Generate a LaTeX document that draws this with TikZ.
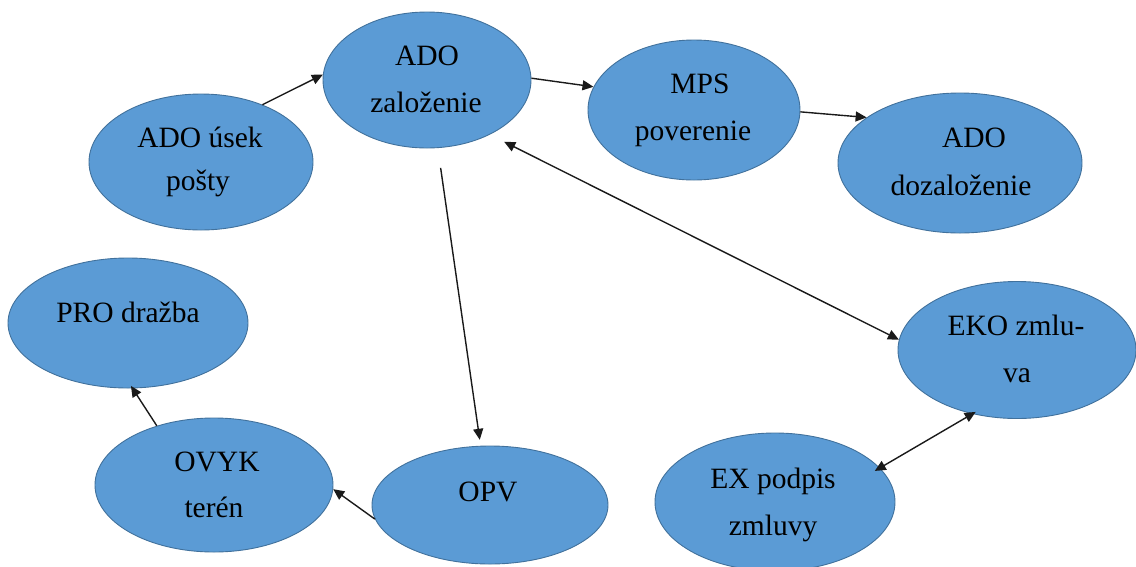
\documentclass[tikz,border=0pt]{standalone}
\usepackage{fontspec}
\setmainfont{Liberation Serif}
\usetikzlibrary{arrows.meta,shapes.geometric}
\definecolor{blobfill}{HTML}{5B9BD5}
\definecolor{blobline}{HTML}{41719C}
\definecolor{arrowline}{HTML}{1A1A1A}
\tikzset{
  blob/.style={ellipse, draw=blobline, fill=blobfill, line width=0.9pt, inner sep=0pt},
  lbl/.style={anchor=base, inner sep=0pt, font=\fontsize{29.5}{35}\selectfont, text=black},
  link/.style={draw=arrowline, line width=1.4pt, -{Triangle[length=11pt,width=10pt]}},
  twoway/.style={draw=arrowline, line width=1.4pt, {Triangle[length=11pt,width=10pt]}-{Triangle[length=11pt,width=10pt]}}
}
\begin{document}
\begin{tikzpicture}[x=1pt,y=-1pt]
\useasboundingbox (0,0) rectangle (1136,566);

% process states
\node[blob, minimum width=224pt, minimum height=136pt] (usek) at (201,162) {};
\node[blob, minimum width=208pt, minimum height=136pt] (zal) at (427,80) {};
\node[blob, minimum width=212pt, minimum height=140pt] (mps) at (694,110) {};
\node[blob, minimum width=244pt, minimum height=140pt] (dozal) at (960,163) {};
\node[blob, minimum width=240pt, minimum height=130pt] (pro) at (128,323) {};
\node[blob, minimum width=238pt, minimum height=137pt] (eko) at (1017,350) {};
\node[blob, minimum width=238pt, minimum height=134pt] (ovyk) at (214,485) {};
\node[blob, minimum width=236pt, minimum height=118pt] (opv) at (490,505) {};
\node[blob, minimum width=240pt, minimum height=138pt] (ex) at (775,502) {};

% labels
\node[lbl] (usekA) at (200,147) {ADO úsek};
\node[lbl] (usekB) at (198,190) {pošty};
\node[lbl] (zalA) at (427,65) {ADO};
\node[lbl] (zalB) at (426,112) {založenie};
\node[lbl] (mpsA) at (700,93) {MPS};
\node[lbl] (mpsB) at (693,140) {poverenie};
\node[lbl] (dozalA) at (974,147) {ADO};
\node[lbl] (dozalB) at (961,195) {dozaloženie};
\node[lbl] (proA) at (128,322) {PRO dražba};
\node[lbl] (ekoA) at (1016,335) {EKO zmlu-};
\node[lbl] (ekoB) at (1017,382) {va};
\node[lbl] (ovykA) at (217,471) {OVYK};
\node[lbl] (ovykB) at (214,517) {terén};
\node[lbl] (opvA) at (488,501) {OPV};
\node[lbl] (exA) at (773,488) {EX podpis};
\node[lbl] (exB) at (773,535) {zmluvy};

% connectors
\draw[link] (usek.43) -- (zal.177);
\draw[link] (zal.1) -- (mps.167);
\draw[link] (mps.-1) -- (dozal.154);
\draw[link, shorten <=20pt, shorten >=6pt] (zal.-81) -- (opv.99);
\draw[twoway, shorten <=16pt] (zal.-41.6) -- (eko.175);
\draw[twoway, shorten <=-6pt, shorten >=-4pt] (ex.18) -- (eko.-125);
\draw[link] (opv.-173.6) -- (ovyk.-2.4);
\draw[link, shorten >=-3pt] (ovyk.134) -- (pro.-86);
\end{tikzpicture}
\end{document}
